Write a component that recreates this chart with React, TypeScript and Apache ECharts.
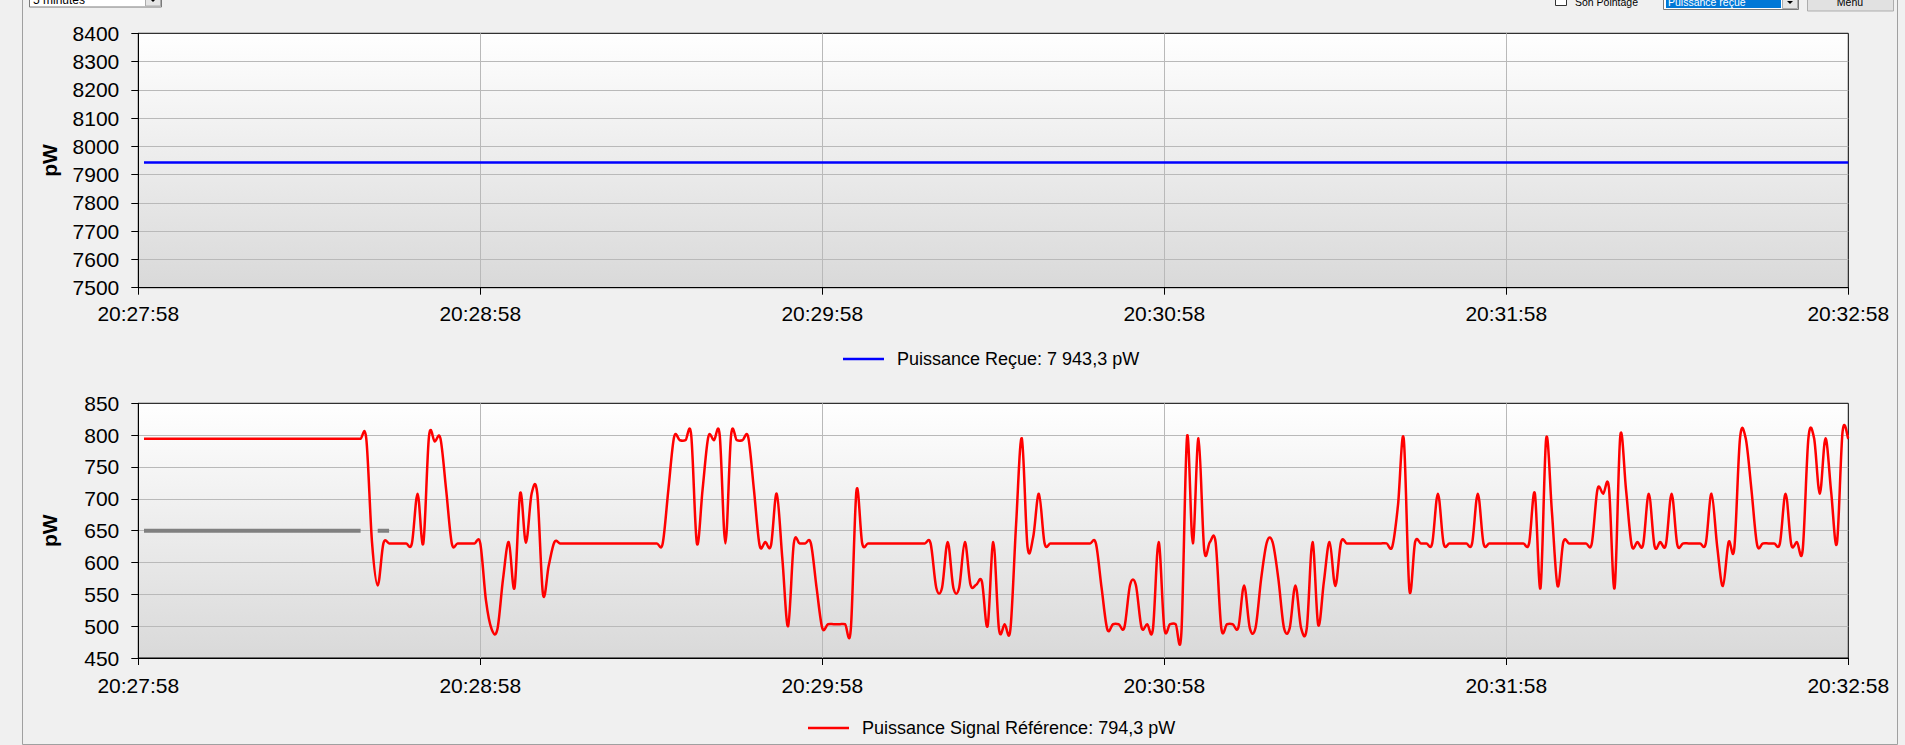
import React, { useEffect, useRef } from 'react';
import * as echarts from 'echarts';

const FONT = '"Liberation Sans", Arial, sans-serif';

// X axis: seconds from 20:27:58, one tick label per minute
const timeLabels = ['20:27:58', '20:28:58', '20:29:58', '20:30:58', '20:31:58', '20:32:58'];

const recuName = 'Puissance Reçue: 7 943,3 pW';
const refName = 'Puissance Signal Référence: 794,3 pW';

// Top chart: received power (constant)
const recuTimes = [1, 300];
const recuValues = [7943.3, 7943.3];

// Bottom chart: grey reference marks
const greyTimes = [1, 39, 40, 42, 44];
const greyValues: (number | null)[] = [650, 650, null, 650, 650];

// Bottom chart: reference signal, one sample per second (t = 1 .. 300)
const refMinute1 = [
  794.3, 794.3, 794.3, 794.3, 794.3, 794.3, 794.3, 794.3, 794.3, 794.3,
  794.3, 794.3, 794.3, 794.3, 794.3, 794.3, 794.3, 794.3, 794.3, 794.3,
  794.3, 794.3, 794.3, 794.3, 794.3, 794.3, 794.3, 794.3, 794.3, 794.3,
  794.3, 794.3, 794.3, 794.3, 794.3, 794.3, 794.3, 794.3, 794.3, 794.3,
  632, 564, 630, 630, 630, 630, 630, 630, 708, 630,
  798, 790, 795, 715, 630, 630, 630, 630, 630, 630,
];
const refMinute2 = [
  540, 495, 495, 575, 632, 560, 709, 631, 708, 708,
  550, 595, 632, 630, 630, 630, 630, 630, 630, 630,
  630, 630, 630, 630, 630, 630, 630, 630, 630, 630,
  630, 630, 715, 797, 792, 792, 800, 630, 715, 797,
  792, 800, 630, 800, 792, 792, 797, 715, 627, 632,
  627, 708, 605, 500, 630, 630, 630, 630, 560, 497,
];
const refMinute3 = [
  503, 503, 503, 503, 495, 713, 630, 630, 630, 630,
  630, 630, 630, 630, 630, 630, 630, 630, 630, 560,
  560, 632, 560, 560, 632, 565, 565, 570, 500, 632,
  495, 503, 495, 660, 795, 625, 640, 708, 630, 630,
  630, 630, 630, 630, 630, 630, 630, 630, 560, 495,
  503, 503, 498, 565, 565, 498, 503, 495, 632, 497,
];
const refMinute4 = [
  503, 503, 490, 798, 630, 795, 620, 632, 632, 497,
  503, 503, 498, 564, 497, 497, 575, 632, 632, 575,
  497, 497, 564, 497, 497, 632, 502, 570, 632, 563,
  632, 630, 630, 630, 630, 630, 630, 630, 630, 625,
  690, 795, 557, 632, 630, 630, 630, 708, 630, 630,
  630, 630, 630, 630, 708, 630, 630, 630, 630, 630,
];
const refMinute5 = [
  630, 630, 630, 630, 709, 560, 795, 680, 563, 632,
  630, 630, 630, 630, 630, 715, 708, 718, 560, 799,
  715, 627, 632, 628, 708, 626, 632, 628, 708, 628,
  630, 630, 630, 630, 630, 708, 625, 563, 632, 622,
  795, 795, 715, 628, 630, 630, 630, 630, 708, 628,
  632, 620, 795, 795, 708, 795, 710, 630, 806, 794.3,
];

const refValues = [...refMinute1, ...refMinute2, ...refMinute3, ...refMinute4, ...refMinute5];
const refTimes = refValues.map((_, i) => i + 1);

function xAxisDef(gridIndex: number, margin: number) {
  return {
    type: 'value',
    gridIndex,
    min: 0,
    max: 300,
    interval: 60,
    axisLine: { show: true, onZero: false, lineStyle: { color: '#000', width: 1 } },
    axisTick: { show: true, length: 7, lineStyle: { color: '#000' } },
    axisLabel: {
      fontSize: 21,
      color: '#000',
      fontFamily: FONT,
      margin,
      formatter: (v: number) => timeLabels[Math.round(v / 60)] ?? '',
    },
    splitLine: { show: true, showMinLine: false, showMaxLine: false, lineStyle: { color: '#b9b9b9', width: 1 } },
  };
}

function yAxisDef(gridIndex: number, min: number, max: number, interval: number) {
  return {
    type: 'value',
    gridIndex,
    min,
    max,
    interval,
    name: 'pW',
    nameLocation: 'middle',
    nameRotate: 90,
    nameGap: 78,
    nameTextStyle: { fontSize: 21, fontWeight: 'bold', color: '#000', fontFamily: FONT },
    axisLine: { show: true, onZero: false, lineStyle: { color: '#000', width: 1 } },
    axisTick: { show: true, length: 7, lineStyle: { color: '#000' } },
    axisLabel: { fontSize: 21, color: '#000', fontFamily: FONT, margin: 19, formatter: (v: number) => String(v) },
    splitLine: { show: true, showMinLine: false, showMaxLine: false, lineStyle: { color: '#b9b9b9', width: 1 } },
  };
}

const plotBg = () =>
  new echarts.graphic.LinearGradient(0, 0, 0, 1, [
    { offset: 0, color: '#ffffff' },
    { offset: 1, color: '#d9d9d9' },
  ]);

function legendDef(name: string, left: number, top: number) {
  return {
    data: [name],
    left,
    top,
    padding: 0,
    icon: 'rect',
    itemWidth: 41,
    itemHeight: 2.5,
    selectedMode: false,
    textStyle: { fontSize: 18, color: '#000', fontFamily: FONT, padding: [0, 0, 0, 8] },
  };
}

function uiGraphics() {
  const small = '10.5px ' + FONT;
  return [
    // panel frame
    { type: 'rect', silent: true, shape: { x: 22.5, y: -5, width: 1875, height: 749.5 }, style: { fill: 'none', stroke: '#a0a0a0', lineWidth: 1 } },
    // "5 minutes" combo box (cut at the top)
    { type: 'rect', silent: true, shape: { x: 29.5, y: -16, width: 132, height: 23 }, style: { fill: '#ffffff', stroke: '#7a7a7a', lineWidth: 1 } },
    { type: 'text', silent: true, style: { text: '5 minutes', x: 33, y: 5.8, font: '12px ' + FONT, fill: '#000', verticalAlign: 'bottom' } },
    { type: 'rect', silent: true, shape: { x: 145.5, y: -14, width: 15, height: 20 }, style: { fill: '#e5e5e5', stroke: '#acacac', lineWidth: 1 } },
    { type: 'polygon', silent: true, shape: { points: [[150, -1], [156, -1], [153, 2]] }, style: { fill: '#000' } },
    // "Son Pointage" checkbox
    { type: 'rect', silent: true, shape: { x: 1555.5, y: -8, width: 11, height: 13.5 }, style: { fill: '#ffffff', stroke: '#333333', lineWidth: 1 } },
    { type: 'text', silent: true, style: { text: 'Son Pointage', x: 1575, y: 7.3, font: small, fill: '#000', verticalAlign: 'bottom' } },
    // "Puissance reçue" combo box
    { type: 'rect', silent: true, shape: { x: 1663.5, y: -12, width: 135, height: 21.5 }, style: { fill: '#ffffff', stroke: '#7a7a7a', lineWidth: 1 } },
    { type: 'rect', silent: true, shape: { x: 1666, y: -10, width: 115, height: 18 }, style: { fill: '#0078d7' } },
    { type: 'text', silent: true, style: { text: 'Puissance reçue', x: 1668, y: 7.3, font: small, fill: '#ffffff', verticalAlign: 'bottom' } },
    { type: 'rect', silent: true, shape: { x: 1782.5, y: -10, width: 15, height: 18.5 }, style: { fill: '#e5e5e5', stroke: '#acacac', lineWidth: 1 } },
    { type: 'polygon', silent: true, shape: { points: [[1787, 1], [1793, 1], [1790, 4]] }, style: { fill: '#000' } },
    // "Menu" button
    { type: 'rect', silent: true, shape: { x: 1807.5, y: -12, width: 86, height: 23 }, style: { fill: '#e1e1e1', stroke: '#adadad', lineWidth: 1 } },
    { type: 'text', silent: true, style: { text: 'Menu', x: 1850, y: 7.3, font: small, fill: '#000', align: 'center', verticalAlign: 'bottom' } },
  ];
}

export default function App() {
  const ref = useRef<HTMLDivElement>(null);

  useEffect(() => {
    if (!ref.current) return;
    const chart = echarts.init(ref.current, undefined, { renderer: 'svg' });

    const option: any = {
      animation: false,
      backgroundColor: '#f0f0f0',
      textStyle: { fontFamily: FONT },
      grid: [
        { left: 138.3, top: 33.3, width: 1710, height: 254.4, show: true, backgroundColor: plotBg(), borderColor: '#000', borderWidth: 1 },
        { left: 138.3, top: 403.3, width: 1710, height: 254.7, show: true, backgroundColor: plotBg(), borderColor: '#000', borderWidth: 1 },
      ],
      xAxis: [xAxisDef(0, 15), xAxisDef(1, 17)],
      yAxis: [yAxisDef(0, 7500, 8400, 100), yAxisDef(1, 450, 850, 50)],
      legend: [legendDef(recuName, 843, 350), legendDef(refName, 808, 719)],
      graphic: uiGraphics(),
      series: [
        {
          name: recuName,
          type: 'line',
          xAxisIndex: 0,
          yAxisIndex: 0,
          data: recuTimes.map((t, i) => [t, recuValues[i]]),
          symbol: 'none',
          itemStyle: { color: '#0000ff' },
          lineStyle: { color: '#0000ff', width: 2.5 },
          silent: true,
        },
        {
          name: 'grey',
          type: 'line',
          xAxisIndex: 1,
          yAxisIndex: 1,
          data: greyTimes.map((t, i) => [t, greyValues[i]]),
          symbol: 'none',
          connectNulls: false,
          itemStyle: { color: '#808080' },
          lineStyle: { color: '#808080', width: 4, cap: 'butt' },
          silent: true,
        },
        {
          name: refName,
          type: 'custom',
          xAxisIndex: 1,
          yAxisIndex: 1,
          coordinateSystem: 'cartesian2d',
          data: refTimes.map((t, i) => [t, refValues[i]]),
          encode: { x: 0, y: 1 },
          itemStyle: { color: '#ff0000' },
          silent: true,
          renderItem: (params: any, api: any) => {
            if (params.dataIndex !== 0) return null;
            const pts = refValues.map((v, i) => api.coord([refTimes[i], v]));
            const n = pts.length;
            let d = `M${pts[0][0]},${pts[0][1]}`;
            for (let i = 0; i < n - 1; i++) {
              const p0 = pts[Math.max(i - 1, 0)];
              const p1 = pts[i];
              const p2 = pts[i + 1];
              const p3 = pts[Math.min(i + 2, n - 1)];
              const c1x = p1[0] + (p2[0] - p0[0]) / 6;
              const c1y = p1[1] + (p2[1] - p0[1]) / 6;
              const c2x = p2[0] - (p3[0] - p1[0]) / 6;
              const c2y = p2[1] - (p3[1] - p1[1]) / 6;
              d += ` C${c1x},${c1y} ${c2x},${c2y} ${p2[0]},${p2[1]}`;
            }
            return {
              type: 'path',
              shape: { pathData: d },
              style: { fill: 'none', stroke: '#ff0000', lineWidth: 2.5, lineJoin: 'round' },
            };
          },
        },
      ],
    };

    chart.setOption(option);
    return () => chart.dispose();
  }, []);

  return (
    <div
      ref={ref}
      style={{ position: 'fixed', left: 0, top: 0, width: 1905, height: 745, background: '#f0f0f0' }}
    />
  );
}
